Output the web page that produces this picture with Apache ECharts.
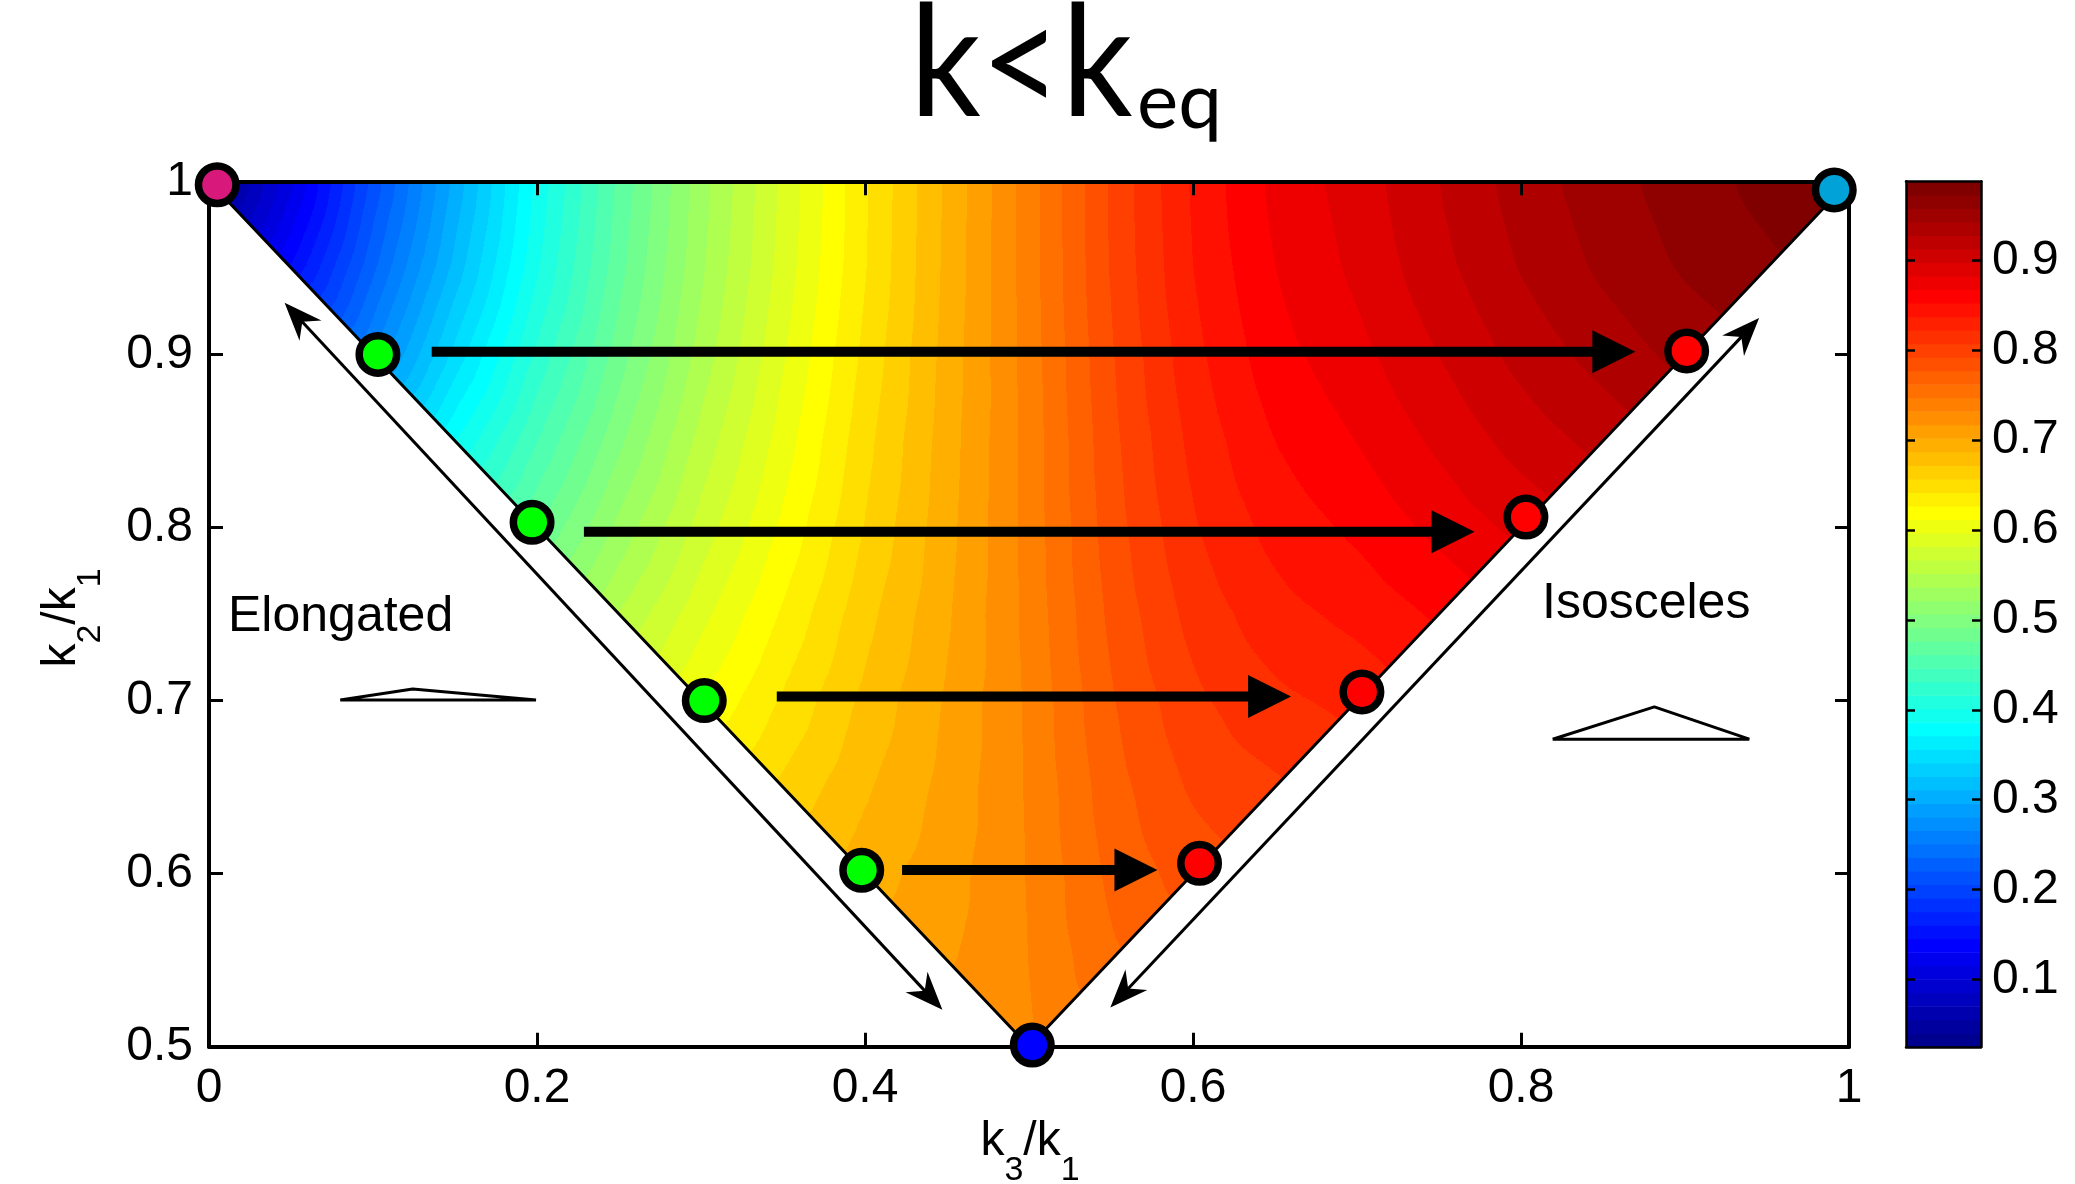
<!DOCTYPE html>
<html>
<head>
<meta charset="utf-8">
<script src="https://cdn.jsdelivr.net/npm/echarts@6.0.0/dist/echarts.min.js"></script>
<style>
  html, body { margin: 0; padding: 0; background: #ffffff; }
  #chart { width: 2075px; height: 1184px; }
</style>
</head>
<body>
<div id="chart"></div>
<script>
// Normalised value over the triangle of shapes, x = k3/k1, y = k2/k1.
// One array per k2/k1 row (step 0.05); each row runs from k3/k1 = 1 - y up to k3/k1 = y.
const row100 = [0.025, 0.110, 0.210, 0.300, 0.390, 0.465, 0.530, 0.585, 0.640, 0.690, 0.740, 0.795, 0.840, 0.872, 0.890, 0.913, 0.935, 0.952, 0.966, 0.978, 0.988];
const row095 = [0.145, 0.232, 0.316, 0.399, 0.471, 0.534, 0.588, 0.641, 0.691, 0.740, 0.794, 0.838, 0.868, 0.886, 0.908, 0.929, 0.946, 0.960, 0.970];
const row090 = [0.265, 0.346, 0.420, 0.484, 0.543, 0.595, 0.646, 0.693, 0.739, 0.791, 0.833, 0.862, 0.878, 0.898, 0.918, 0.934, 0.948];
const row085 = [0.385, 0.446, 0.503, 0.557, 0.604, 0.652, 0.695, 0.738, 0.788, 0.827, 0.853, 0.868, 0.886, 0.904, 0.918];
const row080 = [0.475, 0.526, 0.573, 0.615, 0.658, 0.697, 0.738, 0.785, 0.821, 0.843, 0.856, 0.872, 0.887];
const row075 = [0.552, 0.592, 0.629, 0.667, 0.700, 0.737, 0.781, 0.813, 0.832, 0.842, 0.855];
const row070 = [0.612, 0.644, 0.676, 0.704, 0.735, 0.776, 0.804, 0.819, 0.827];
const row065 = [0.660, 0.685, 0.707, 0.734, 0.771, 0.795, 0.805];
const row060 = [0.695, 0.711, 0.733, 0.766, 0.785];
const row055 = [0.715, 0.732, 0.760];
const row050 = [0.730];
const fieldRows = [row100, row095, row090, row085, row080, row075, row070, row065, row060, row055, row050];
const GRID_STEP = 0.05;

// Marked configurations
const squeezedPt = [0.005, 0.998];
const equilateralPt = [0.991, 0.995];
const foldedPt = [0.502, 0.501];
const elongatedPts = [[0.103, 0.900], [0.197, 0.803], [0.302, 0.700], [0.398, 0.602]];
const isoscelesPts = [[0.604, 0.606], [0.703, 0.705], [0.803, 0.806], [0.901, 0.902]];

// Thick arrows: [start k3/k1, tip k3/k1, k2/k1]
const flowArrows = [[0.1358, 0.8697, 0.9016], [0.2286, 0.7717, 0.7975], [0.3462, 0.6598, 0.7024], [0.4226, 0.5783, 0.6022]];
// Double-headed arrows along the edges: [x1, y1, x2, y2]
const edgeArrows = [[0.0461, 0.9298, 0.4472, 0.5214], [0.5496, 0.5227, 0.9452, 0.9210]];

// Small sketches of the triangle shapes
const elongatedShape = [[0.080, 0.7003], [0.1242, 0.7067], [0.1994, 0.7003], [0.080, 0.7003]];
const isoscelesShape = [[0.8193, 0.6777], [0.8813, 0.6964], [0.9392, 0.6777], [0.8193, 0.6777]];

// Tick values
const xTicks = [0, 0.2, 0.4, 0.6, 0.8, 1];
const yTicks = [0.5, 0.6, 0.7, 0.8, 0.9, 1];
const cbTicks = [0.1, 0.2, 0.3, 0.4, 0.5, 0.6, 0.7, 0.8, 0.9];

// ---- helpers ----
function jetMap(m) {
  const n = Math.ceil(m / 4);
  const u = [];
  for (let k = 1; k <= n; k++) u.push(k / n);
  for (let k = 0; k < n - 1; k++) u.push(1);
  for (let k = n; k >= 1; k--) u.push(k / n);
  const g0 = Math.ceil(n / 2) - (m % 4 === 1 ? 1 : 0);
  const J = Array.from({ length: m }, () => [0, 0, 0]);
  u.forEach((val, idx) => {
    const g = g0 + idx + 1, r = g + n, b = g - n;
    if (r >= 1 && r <= m) J[r - 1][0] = val;
    if (g >= 1 && g <= m) J[g - 1][1] = val;
    if (b >= 1 && b <= m) J[b - 1][2] = val;
  });
  return J.map(c => 'rgb(' + Math.round(c[0] * 255) + ',' + Math.round(c[1] * 255) + ',' + Math.round(c[2] * 255) + ')');
}
const NLEV = 64;
const JET = jetMap(NLEV);

// lattice V[j][i]: i -> k3/k1 = i*step, j -> k2/k1 = 0.5 + j*step
const V = [];
fieldRows.forEach((row, k) => {
  const j = fieldRows.length - 1 - k;
  const i0 = 10 - j;
  V[j] = [];
  row.forEach((v, n) => { V[j][i0 + n] = v; });
});
const allVals = fieldRows.flat();
const vMin = Math.min(...allVals);
const vMax = Math.max(...allVals);

function at(i, j) { return V[j] ? V[j][i] : undefined; }
// piecewise-linear value on the triangulated lattice
function fieldAt(x, y) {
  const gx = x / GRID_STEP, gy = (y - 0.5) / GRID_STEP;
  const i = Math.min(19, Math.max(0, Math.floor(gx)));
  const j = Math.min(9, Math.max(0, Math.floor(gy)));
  const fx = gx - i, fy = gy - j;
  const BL = at(i, j), BR = at(i + 1, j), TL = at(i, j + 1), TR = at(i + 1, j + 1);
  let a, b;
  if (i < 10) {
    a = BL + fx * (BR - BL) + fy * (TL - BL);
    b = TR + (1 - fx) * (TL - TR) + (1 - fy) * (BR - TR);
    if (fx + fy <= 1 && isFinite(a)) return a;
    return isFinite(b) ? b : a;
  } else {
    a = BL + fx * (BR - BL) + fy * (TR - BR);
    b = BL + fx * (TR - TL) + fy * (TL - BL);
    if (fx >= fy && isFinite(a)) return a;
    return isFinite(b) ? b : a;
  }
}
function levelOf(v) {
  let k = Math.floor((v - vMin) / (vMax - vMin) * NLEV);
  return Math.max(0, Math.min(NLEV - 1, k));
}

// Raster of the lattice field with a light Gaussian smoothing (normalised to the
// triangle) so that band edges come out as smooth curves, like a filled contour plot.
function buildRaster(X0, Yt, W, H) {
  const S = 3;
  const nx = Math.ceil(W / S) + 2, ny = Math.ceil(H / S) + 2;
  const num = new Float32Array(nx * ny), den = new Float32Array(nx * ny);
  for (let iy = 0; iy < ny; iy++) {
    const y = 1 - 0.5 * (iy * S) / H;
    for (let ix = 0; ix < nx; ix++) {
      const x = (ix * S) / W;
      if (y <= 1 + 1e-9 && y >= 0.5 - 1e-9 && x >= 1 - y - 1e-9 && x <= y + 1e-9) {
        num[iy * nx + ix] = fieldAt(Math.min(1, x), Math.min(1, y));
        den[iy * nx + ix] = 1;
      }
    }
  }
  const sig = 9 / S, rad = Math.ceil(3 * sig);
  const ker = [];
  for (let k = -rad; k <= rad; k++) ker.push(Math.exp(-k * k / (2 * sig * sig)));
  function pass(src, horizontal) {
    const out = new Float32Array(nx * ny);
    for (let iy = 0; iy < ny; iy++) {
      for (let ix = 0; ix < nx; ix++) {
        let s = 0;
        for (let k = -rad; k <= rad; k++) {
          const jx = horizontal ? ix + k : ix, jy = horizontal ? iy : iy + k;
          if (jx < 0 || jx >= nx || jy < 0 || jy >= ny) continue;
          s += ker[k + rad] * src[jy * nx + jx];
        }
        out[iy * nx + ix] = s;
      }
    }
    return out;
  }
  const n2 = pass(pass(num, true), false);
  const d2 = pass(pass(den, true), false);
  const sm = new Float32Array(nx * ny);
  for (let q = 0; q < nx * ny; q++) sm[q] = d2[q] > 1e-6 ? n2[q] / d2[q] : 0;
  return function (px, py) {
    const fx = (px - X0) / S, fy = (py - Yt) / S;
    const ix = Math.max(0, Math.min(nx - 2, Math.floor(fx)));
    const iy = Math.max(0, Math.min(ny - 2, Math.floor(fy)));
    const tx = Math.max(0, Math.min(1, fx - ix)), ty = Math.max(0, Math.min(1, fy - iy));
    const a = sm[iy * nx + ix], b = sm[iy * nx + ix + 1], c = sm[(iy + 1) * nx + ix], d = sm[(iy + 1) * nx + ix + 1];
    return (a * (1 - tx) + b * tx) * (1 - ty) + (c * (1 - tx) + d * tx) * ty;
  };
}

function renderField(params, api) {
  const p0 = api.coord([0, 0.5]);
  const p1 = api.coord([1, 1]);
  const X0 = p0[0], X1 = p1[0], Yb = p0[1], Yt = p1[1];
  const W = X1 - X0, H = Yb - Yt;
  const sample = buildRaster(X0, Yt, W, H);
  const children = [];
  const ROW = 2;
  for (let py = Math.floor(Yt); py < Yb; py += ROW) {
    const yc = 0.5 + 0.5 * (Yb - (py + ROW / 2)) / H;
    const y = Math.min(1, Math.max(0.5, yc));
    const xl = X0 + (1 - y) * W, xr = X0 + y * W;
    if (xr <= xl) continue;
    const pyc = py + ROW / 2;
    let start = xl;
    let cur = levelOf(sample(xl, pyc));
    for (let px = Math.ceil(xl); px <= xr; px++) {
      const lv = levelOf(sample(Math.min(xr, px + 0.5), pyc));
      if (lv !== cur) {
        children.push({ type: 'rect', shape: { x: start, y: py, width: px - start, height: ROW }, style: { fill: JET[cur] } });
        start = px; cur = lv;
      }
    }
    children.push({ type: 'rect', shape: { x: start, y: py, width: xr - start, height: ROW }, style: { fill: JET[cur] } });
  }
  return { type: 'group', children: children, silent: true };
}

function renderColorbar(params, api) {
  const k = api.value(0);
  const d = (vMax - vMin) / NLEV;
  const a = api.coord([0, vMin + k * d]);
  const b = api.coord([1, vMin + (k + 1) * d]);
  return { type: 'rect', shape: { x: a[0], y: b[1], width: b[0] - a[0], height: a[1] - b[1] + 0.6 }, style: { fill: JET[k] } };
}

function renderFlowArrow(params, api) {
  const s = api.coord([api.value(0), api.value(2)]);
  const t = api.coord([api.value(1), api.value(2)]);
  const len = 43, half = 21.5;
  return {
    type: 'group', children: [
      { type: 'line', shape: { x1: s[0], y1: s[1], x2: t[0] - len + 2, y2: t[1] }, style: { stroke: '#000', lineWidth: 10 } },
      { type: 'polygon', shape: { points: [[t[0], t[1]], [t[0] - len, t[1] - half], [t[0] - len, t[1] + half]] }, style: { fill: '#000' } }
    ]
  };
}

function headAt(tip, dir) {
  // concave arrow head with its tip at 'tip', opening along dir
  const L = 38, Wd = 15, N = 26;
  const px = -dir[1], py = dir[0];
  return [
    [tip[0], tip[1]],
    [tip[0] + dir[0] * L + px * Wd, tip[1] + dir[1] * L + py * Wd],
    [tip[0] + dir[0] * N, tip[1] + dir[1] * N],
    [tip[0] + dir[0] * L - px * Wd, tip[1] + dir[1] * L - py * Wd]
  ];
}
function renderEdgeArrow(params, api) {
  const a = api.coord([api.value(0), api.value(1)]);
  const b = api.coord([api.value(2), api.value(3)]);
  const dx = b[0] - a[0], dy = b[1] - a[1], l = Math.hypot(dx, dy);
  const u = [dx / l, dy / l];
  return {
    type: 'group', children: [
      { type: 'line', shape: { x1: a[0] + u[0] * 20, y1: a[1] + u[1] * 20, x2: b[0] - u[0] * 20, y2: b[1] - u[1] * 20 }, style: { stroke: '#000', lineWidth: 3 } },
      { type: 'polygon', shape: { points: headAt(a, u) }, style: { fill: '#000' } },
      { type: 'polygon', shape: { points: headAt(b, [-u[0], -u[1]]) }, style: { fill: '#000' } }
    ]
  };
}

const FONT = "'Liberation Sans', Arial, Helvetica, sans-serif";
const axisCommon = {
  axisLine: { show: true, onZero: false, lineStyle: { color: '#000', width: 4 } },
  axisTick: { show: true, inside: true, length: 14, lineStyle: { color: '#000', width: 3 } },
  splitLine: { show: false },
  z: 10
};
const fmt1 = v => String(Math.round(v * 10) / 10);

const markerStyle = c => ({ color: c, borderColor: '#000000', borderWidth: 7.5, opacity: 1 });

const chart = echarts.init(document.getElementById('chart'), null, { renderer: 'canvas' });
chart.setOption({
  backgroundColor: '#ffffff',
  animation: false,
  grid: [
    { left: 209, top: 181.3, width: 1640, height: 865.5 },
    { left: 1906, top: 181.3, width: 75, height: 865.5 }
  ],
  xAxis: [
    Object.assign({}, axisCommon, { gridIndex: 0, type: 'value', min: 0, max: 1, position: 'bottom',
      axisTick: Object.assign({}, axisCommon.axisTick, { customValues: xTicks }),
      axisLabel: { customValues: xTicks, formatter: fmt1, fontFamily: FONT, fontSize: 48, color: '#000', margin: 18 } }),
    Object.assign({}, axisCommon, { gridIndex: 0, type: 'value', min: 0, max: 1, position: 'top',
      axisTick: Object.assign({}, axisCommon.axisTick, { customValues: xTicks }),
      axisLabel: { show: false } }),
    { gridIndex: 1, type: 'value', min: 0, max: 1, position: 'bottom', z: 10,
      axisLine: { show: true, onZero: false, lineStyle: { color: '#000', width: 2.5 } },
      axisTick: { show: false }, axisLabel: { show: false }, splitLine: { show: false } },
    { gridIndex: 1, type: 'value', min: 0, max: 1, position: 'top', z: 10,
      axisLine: { show: true, onZero: false, lineStyle: { color: '#000', width: 2.5 } },
      axisTick: { show: false }, axisLabel: { show: false }, splitLine: { show: false } }
  ],
  yAxis: [
    Object.assign({}, axisCommon, { gridIndex: 0, type: 'value', min: 0.5, max: 1, position: 'left',
      axisTick: Object.assign({}, axisCommon.axisTick, { customValues: yTicks }),
      axisLabel: { customValues: yTicks, formatter: fmt1, fontFamily: FONT, fontSize: 48, color: '#000', margin: 16 } }),
    Object.assign({}, axisCommon, { gridIndex: 0, type: 'value', min: 0.5, max: 1, position: 'right',
      axisTick: Object.assign({}, axisCommon.axisTick, { customValues: yTicks }),
      axisLabel: { show: false } }),
    { gridIndex: 1, type: 'value', min: vMin, max: vMax, position: 'right', z: 10,
      axisLine: { show: true, onZero: false, lineStyle: { color: '#000', width: 2.5 } },
      axisTick: { show: true, inside: true, length: 9, customValues: cbTicks, lineStyle: { color: '#000', width: 2.5 } },
      axisLabel: { customValues: cbTicks, formatter: fmt1, fontFamily: FONT, fontSize: 48, color: '#000', margin: 11 },
      splitLine: { show: false } },
    { gridIndex: 1, type: 'value', min: vMin, max: vMax, position: 'left', z: 10,
      axisLine: { show: true, onZero: false, lineStyle: { color: '#000', width: 2.5 } },
      axisTick: { show: true, inside: true, length: 9, customValues: cbTicks, lineStyle: { color: '#000', width: 2.5 } },
      axisLabel: { show: false }, splitLine: { show: false } }
  ],
  series: [
    { type: 'custom', name: 'field', xAxisIndex: 0, yAxisIndex: 0, data: [[0]], renderItem: renderField, z: 1, silent: true },
    { type: 'custom', name: 'colorbar', xAxisIndex: 2, yAxisIndex: 2, data: JET.map((c, k) => [k]), renderItem: renderColorbar, z: 1, silent: true },
    { type: 'line', name: 'edges', xAxisIndex: 0, yAxisIndex: 0, data: [[0, 1], [0.5, 0.5], [1, 1]], symbol: 'none',
      lineStyle: { color: '#000', width: 3 }, z: 5, silent: true },
    { type: 'line', name: 'elongated sketch', xAxisIndex: 0, yAxisIndex: 0, data: elongatedShape, symbol: 'none',
      lineStyle: { color: '#000', width: 3 }, z: 5, silent: true },
    { type: 'line', name: 'isosceles sketch', xAxisIndex: 0, yAxisIndex: 0, data: isoscelesShape, symbol: 'none',
      lineStyle: { color: '#000', width: 3 }, z: 5, silent: true },
    { type: 'custom', name: 'flow', xAxisIndex: 0, yAxisIndex: 0, data: flowArrows, renderItem: renderFlowArrow, z: 6, silent: true },
    { type: 'custom', name: 'edge arrows', xAxisIndex: 0, yAxisIndex: 0, data: edgeArrows, renderItem: renderEdgeArrow, z: 6, silent: true },
    { type: 'scatter', name: 'elongated', xAxisIndex: 0, yAxisIndex: 0, data: elongatedPts, symbolSize: 37.5,
      itemStyle: markerStyle('#00ff00'), z: 20, clip: false, silent: true },
    { type: 'scatter', name: 'isosceles', xAxisIndex: 0, yAxisIndex: 0, data: isoscelesPts, symbolSize: 37.5,
      itemStyle: markerStyle('#ff0000'), z: 20, clip: false, silent: true },
    { type: 'scatter', name: 'squeezed', xAxisIndex: 0, yAxisIndex: 0, data: [squeezedPt], symbolSize: 37.5,
      itemStyle: markerStyle('#d8197b'), z: 20, clip: false, silent: true },
    { type: 'scatter', name: 'equilateral', xAxisIndex: 0, yAxisIndex: 0, data: [equilateralPt], symbolSize: 37.5,
      itemStyle: markerStyle('#00a2d8'), z: 20, clip: false, silent: true },
    { type: 'scatter', name: 'folded', xAxisIndex: 0, yAxisIndex: 0, data: [foldedPt], symbolSize: 37.5,
      itemStyle: markerStyle('#0000ff'), z: 20, clip: false, silent: true }
  ],
  graphic: [
    { type: 'text', x: 910, y: 65.6, scaleX: 0.9, z: 50, style: { text: 'k<k', font: "155px Lato, 'Open Sans', sans-serif", fill: '#000', align: 'left', verticalAlign: 'middle' } },
    { type: 'text', x: 1137, y: 103, z: 50, style: { text: 'eq', font: "78px Lato, 'Open Sans', sans-serif", fill: '#000', align: 'left', verticalAlign: 'middle' } },
    { type: 'text', x: 228, y: 617, z: 50, style: { text: 'Elongated', font: '50px ' + FONT, fill: '#000', align: 'left', verticalAlign: 'middle' } },
    { type: 'text', x: 1542, y: 604, z: 50, style: { text: 'Isosceles', font: '50px ' + FONT, fill: '#000', align: 'left', verticalAlign: 'middle' } },
    { type: 'text', x: 1030, y: 1142, z: 50, style: {
        text: 'k{s|3}/k{s|1}', font: '48px ' + FONT, fill: '#000', align: 'center', verticalAlign: 'middle', lineHeight: 92,
        rich: { s: { fontSize: 34, fontFamily: FONT, lineHeight: 34, verticalAlign: 'bottom', fill: '#000' } } } },
    { type: 'text', x: 62, y: 618, rotation: Math.PI / 2, z: 50, style: {
        text: 'k{s|2}/k{s|1}', font: '48px ' + FONT, fill: '#000', align: 'center', verticalAlign: 'middle', lineHeight: 92,
        rich: { s: { fontSize: 34, fontFamily: FONT, lineHeight: 34, verticalAlign: 'bottom', fill: '#000' } } } }
  ]
});
</script>
</body>
</html>
